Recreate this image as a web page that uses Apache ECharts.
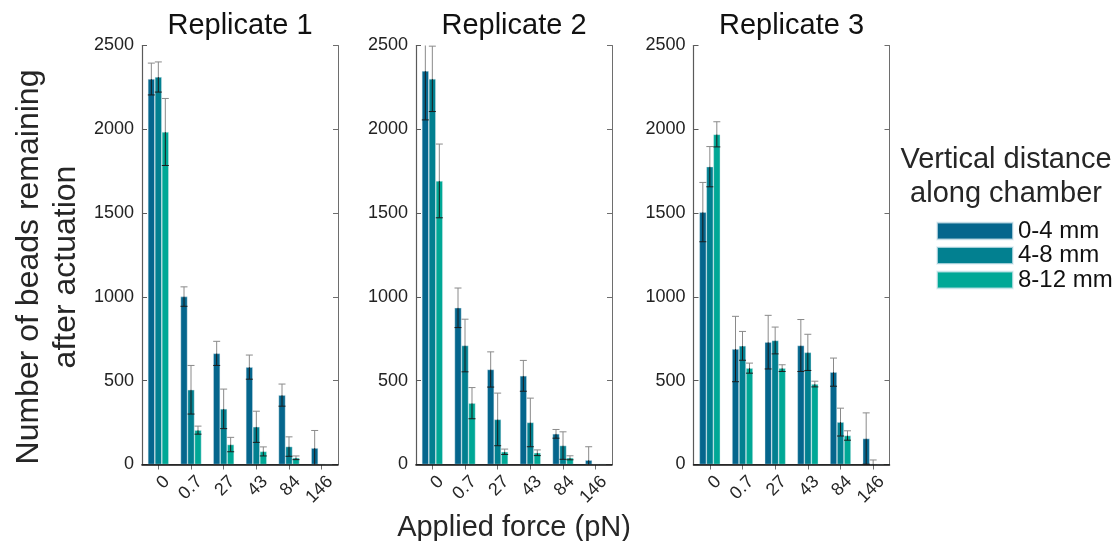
<!DOCTYPE html>
<html>
<head>
<meta charset="utf-8">
<script src="https://cdn.jsdelivr.net/npm/echarts@6/dist/echarts.min.js"></script>
<style>
  html, body { margin: 0; padding: 0; background: #fff; }
  #chart { width: 1119px; height: 541px; }
</style>
</head>
<body>
<div id="chart"></div>
<script>
// Force categories and group names
const forceLabels = ['0', '0.7', '27', '43', '84', '146'];
const seriesNames = ['0-4 mm', '4-8 mm', '8-12 mm'];
const panelTitles = ['Replicate 1', 'Replicate 2', 'Replicate 3'];

// Replicate 1: mean bead counts and error
const rep1Near = [2300, 1002, 663, 581, 414, 98];
const rep1Mid  = [2312, 446, 332, 225, 107, 3];
const rep1Far  = [1984, 205, 119, 78, 40, 0];
const rep1NearErr = [95, 58, 72, 72, 66, 105];
const rep1MidErr  = [90, 145, 118, 93, 58, 0];
const rep1FarErr  = [200, 24, 43, 27, 11, 0];

// Replicate 2
const rep2Near = [2348, 935, 567, 529, 183, 26];
const rep2Mid  = [2301, 710, 269, 251, 113, 2];
const rep2Far  = [1692, 366, 76, 70, 40, 3];
const rep2NearErr = [292, 118, 105, 92, 26, 80];
const rep2MidErr  = [195, 157, 157, 145, 82, 0];
const rep2FarErr  = [220, 93, 16, 17, 12, 0];

// Replicate 3
const rep3Near = [1506, 689, 730, 710, 551, 155];
const rep3Mid  = [1777, 708, 740, 669, 253, 2];
const rep3Far  = [1970, 575, 575, 480, 173, 0];
const rep3NearErr = [177, 195, 160, 155, 84, 153];
const rep3MidErr  = [120, 86, 80, 108, 83, 25];
const rep3FarErr  = [75, 30, 20, 17, 28, 0];

const colors = ['#05668D', '#028090', '#00A896'];
const FONT = 'Liberation Sans, Arial, Helvetica, sans-serif';
const Y_MAX = 2500;
const BAR_FRAC = 0.214;

const replicates = [
  { values: [rep1Near, rep1Mid, rep1Far], errors: [rep1NearErr, rep1MidErr, rep1FarErr] },
  { values: [rep2Near, rep2Mid, rep2Far], errors: [rep2NearErr, rep2MidErr, rep2FarErr] },
  { values: [rep3Near, rep3Mid, rep3Far], errors: [rep3NearErr, rep3MidErr, rep3FarErr] }
];

const panelLeft = [142, 416, 693.5];
const panelWidth = 196;
const panelTop = 45.5;
const panelHeight = 419;

const chart = echarts.init(document.getElementById('chart'), null, { renderer: 'canvas' });

const grids = [], xAxes = [], yAxes = [], series = [], graphics = [];

// Error bar: grey whisker above the bar top, dark whisker inside the bar
function errorRenderer(params, api) {
  const cat = api.value(0), v = api.value(1), e = api.value(2), g = api.value(3);
  if (!e) return null;
  const base = api.coord([cat, v]);
  const band = api.size([1, 0])[0];
  const bw = band * BAR_FRAC;
  const x = base[0] + (g - 1) * bw;
  const hiVal = Math.min(v + e, Y_MAX);
  const loVal = Math.max(v - e, 0);
  const yTop = api.coord([cat, hiVal])[1];
  const yBot = api.coord([cat, loVal])[1];
  const yv = base[1];
  const half = 3.5;
  const grey = '#8a8a8a', dark = '#1c1c1c';
  const children = [
    { type: 'line', shape: { x1: x, y1: yv, x2: x, y2: yTop }, style: { stroke: grey, lineWidth: 1 } },
    { type: 'line', shape: { x1: x, y1: yBot, x2: x, y2: yv }, style: { stroke: dark, lineWidth: 1 } }
  ];
  if (v + e <= Y_MAX) {
    children.push({ type: 'line', shape: { x1: x - half, y1: yTop, x2: x + half, y2: yTop }, style: { stroke: grey, lineWidth: 1 } });
  }
  if (v - e >= 0) {
    children.push({ type: 'line', shape: { x1: x - half, y1: yBot, x2: x + half, y2: yBot }, style: { stroke: dark, lineWidth: 1 } });
  }
  return { type: 'group', children };
}

replicates.forEach((rep, p) => {
  grids.push({
    left: panelLeft[p], top: panelTop, width: panelWidth, height: panelHeight,
    containLabel: false, outerBoundsMode: 'none'
  });

  // bottom category axis with rotated force labels
  xAxes.push({
    type: 'category', gridIndex: p, data: forceLabels, position: 'bottom', z: 5,
    axisLine: { show: true, lineStyle: { color: '#111', width: 1.5 } },
    axisTick: { show: false },
    axisLabel: {
      interval: 0, hideOverlap: false,
      rotate: 45, fontSize: 18, fontFamily: FONT, color: '#262626', margin: 6,
      verticalAlign: 'top', padding: [3, 0, 0, 0]
    },
    name: p === 1 ? 'Applied force (pN)' : '',
    nameLocation: 'middle', nameGap: 43,
    nameTextStyle: { fontSize: 29, fontFamily: FONT, color: '#262626' }
  });
  // top frame edge with inward ticks
  xAxes.push({
    type: 'category', gridIndex: p, data: forceLabels, position: 'top',
    axisLine: { show: true, lineStyle: { color: '#6e6e6e', width: 1 } },
    axisTick: { show: true, interval: 0, inside: true, alignWithLabel: true, length: 5, lineStyle: { color: '#6e6e6e' } },
    axisLabel: { show: false, interval: 0 }
  });

  yAxes.push({
    type: 'value', gridIndex: p, min: 0, max: Y_MAX, interval: 500, position: 'left',
    axisLine: { show: true, lineStyle: { color: '#5a5a5a', width: 1.2 } },
    axisTick: { show: true, inside: true, length: 5, lineStyle: { color: '#5a5a5a' } },
    axisLabel: { fontSize: 18, fontFamily: FONT, color: '#222', margin: 8, formatter: v => String(v) },
    splitLine: { show: false },
    name: p === 0 ? 'Number of beads remaining\nafter actuation' : '',
    nameLocation: 'middle', nameGap: 57,
    nameTextStyle: { fontSize: 32, fontFamily: FONT, color: '#262626', lineHeight: 37, padding: [0, 24, 0, 0] }
  });
  yAxes.push({
    type: 'value', gridIndex: p, min: 0, max: Y_MAX, interval: 500, position: 'right',
    axisLine: { show: true, lineStyle: { color: '#6e6e6e', width: 1 } },
    axisTick: { show: true, inside: true, length: 5, lineStyle: { color: '#6e6e6e' } },
    axisLabel: { show: false },
    splitLine: { show: false }
  });

  rep.values.forEach((vals, g) => {
    series.push({
      name: seriesNames[g], type: 'bar',
      xAxisIndex: 2 * p, yAxisIndex: 2 * p,
      data: vals, barWidth: (BAR_FRAC * 100) + '%', barGap: '0%',
      itemStyle: { color: colors[g], borderColor: 'rgba(225,238,243,0.7)', borderWidth: 0.6 },
      emphasis: { disabled: true },
      animation: false
    });
  });

  const errData = [];
  rep.values.forEach((vals, g) => {
    vals.forEach((v, i) => errData.push([i, v, rep.errors[g][i], g]));
  });
  series.push({
    type: 'custom', xAxisIndex: 2 * p, yAxisIndex: 2 * p,
    data: errData, renderItem: errorRenderer, z: 4, silent: true, animation: false,
    encode: { x: 0, y: 1 }
  });

  graphics.push({
    type: 'text', x: panelLeft[p] + panelWidth / 2, y: 26,
    style: { text: panelTitles[p], fontSize: 29, fontFamily: FONT, fill: '#111',
             align: 'center', verticalAlign: 'middle' }
  });
});

graphics.push({
  type: 'text', x: 1006, y: 177,
  style: { text: 'Vertical distance\nalong chamber', fontSize: 29, lineHeight: 34,
           fontFamily: FONT, fill: '#262626', align: 'center', verticalAlign: 'middle' }
});

chart.setOption({
  animation: false,
  backgroundColor: '#ffffff',
  grid: grids,
  xAxis: xAxes,
  yAxis: yAxes,
  legend: {
    data: seriesNames, orient: 'vertical', left: 936, top: 219, padding: 0,
    itemWidth: 76, itemHeight: 17, itemGap: 0.5, icon: 'rect',
    textStyle: { fontSize: 24, lineHeight: 24, fontFamily: FONT, color: '#111' },
    selectedMode: false
  },
  graphic: graphics,
  series: series
});
</script>
</body>
</html>
